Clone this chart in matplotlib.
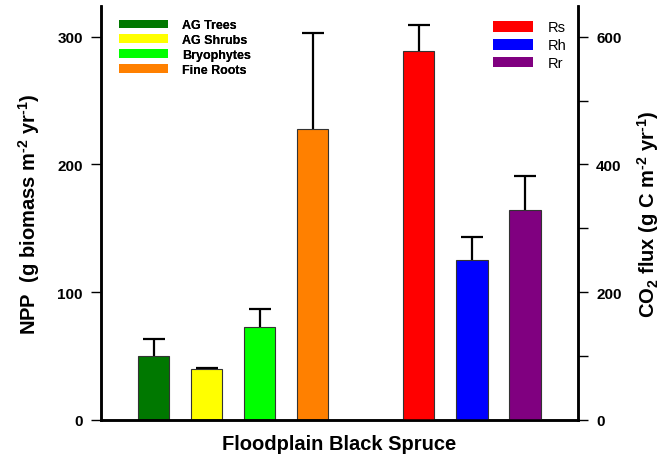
import matplotlib.pyplot as plt
from matplotlib.patches import Patch

plt.rcParams['font.family'] = ['Liberation Sans', 'DejaVu Sans']
plt.rcParams['mathtext.fontset'] = 'custom'
plt.rcParams['mathtext.rm'] = 'Liberation Sans:bold'
plt.rcParams['mathtext.bf'] = 'Liberation Sans:bold'
plt.rcParams['mathtext.it'] = 'Liberation Sans:bold'
plt.rcParams['mathtext.default'] = 'bf'

# NPP components (left axis)
npp_labels = ['AG Trees', 'AG Shrubs', 'Bryophytes', 'Fine Roots']
npp_values = [50, 40, 72.6, 228]
npp_err = [13.5, 1.0, 14.6, 74.5]
npp_colors = ['#007800', '#ffff00', '#00ff00', '#ff8000']

# CO2 fluxes (right axis)
flux_labels = ['Rs', 'Rh', 'Rr']
flux_values = [578, 251, 328]
flux_err = [40, 36, 54]
flux_colors = ['#ff0000', '#0000ff', '#800080']

npp_pos = [0, 1, 2, 3]
flux_pos = [5, 6, 7]
width = 0.585

fig = plt.figure(figsize=(6.63, 4.64), dpi=100)
ax = fig.add_axes([0.1523, 0.0927, 0.7195, 0.8923])
ax2 = ax.twinx()


def upper_errorbars(a, pos, vals, errs):
    # only the upper half of the error bar, no cap at the bar top
    eb = a.errorbar(pos, vals, yerr=[[0] * len(errs), errs], fmt='none', ecolor='black',
                    elinewidth=1.6, capsize=8, capthick=1.6, zorder=1)
    eb[1][0].set_visible(False)


ax.bar(npp_pos, npp_values, width, color=npp_colors, edgecolor='#333333', linewidth=0.8, zorder=2)
upper_errorbars(ax, npp_pos, npp_values, npp_err)
ax2.bar(flux_pos, flux_values, width, color=flux_colors, edgecolor='#333333', linewidth=0.8, zorder=2)
upper_errorbars(ax2, flux_pos, flux_values, flux_err)

ax.set_xlim(-1, 8)
ax.set_ylim(0, 324)
ax2.set_ylim(0, 648)

ax.set_xticks([])
ax.set_yticks([0, 100, 200, 300])
ax2.set_yticks([0, 200, 400, 600])
ax2.set_yticks([100, 300, 500], minor=True)

for a in (ax, ax2):
    a.spines['top'].set_visible(False)
    for s in a.spines.values():
        s.set_linewidth(1.8)
    a.tick_params(axis='y', which='major', length=7, width=1.0, labelsize=11, pad=6)
    a.tick_params(axis='y', which='minor', length=7, width=1.0)
    for lab in a.get_yticklabels():
        lab.set_fontweight('bold')

ax.set_xlabel('Floodplain Black Spruce', fontsize=14.5, fontweight='bold', labelpad=10)
ax.set_ylabel('NPP  (g biomass m$^{\\text{-2}}$ yr$^{\\text{-1}}$)', fontsize=14.5,
              fontweight='bold', labelpad=11)
ax2.set_ylabel('CO$_{\\text{2}}$ flux (g C m$^{\\text{-2}}$ yr$^{\\text{-1}}$)', fontsize=14.5,
               fontweight='bold', labelpad=10)

h1 = [Patch(facecolor=c, edgecolor='none') for c in npp_colors]
leg1 = ax.legend(h1, npp_labels, loc='upper left', bbox_to_anchor=(0.015, 0.995), frameon=False,
                 prop={'size': 9, 'weight': 'bold'}, handlelength=3.9, handleheight=0.7,
                 labelspacing=0.22, handletextpad=1.1)
ax.add_artist(leg1)
h2 = [Patch(facecolor=c, edgecolor='none') for c in flux_colors]
ax2.legend(h2, flux_labels, loc='upper left', bbox_to_anchor=(0.795, 0.997), frameon=False,
           prop={'size': 10.5}, handlelength=2.7, handleheight=0.75,
           labelspacing=0.27, handletextpad=1.0)

fig.savefig('out.png', dpi=100)
